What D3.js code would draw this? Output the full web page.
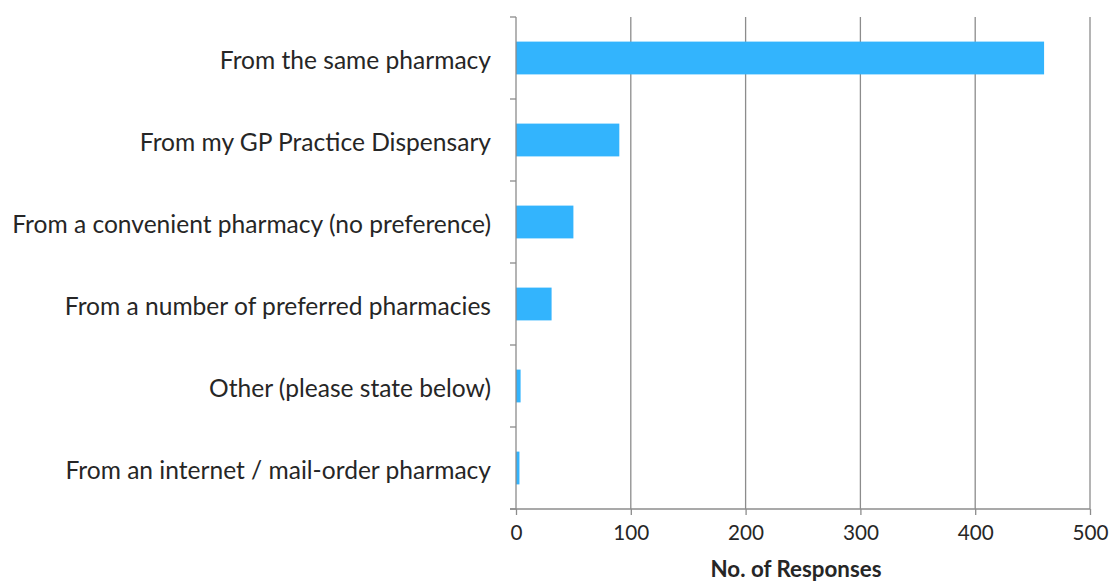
<!DOCTYPE html>
<html>
<head>
<meta charset="utf-8">
<script src="https://cdn.jsdelivr.net/npm/d3@7"></script>
<style>
  html, body { margin: 0; padding: 0; background: #fff; }
  svg { display: block; }
  text { font-family: Lato, "Open Sans", sans-serif; fill: #262626; }
</style>
</head>
<body>
<svg id="chart" width="1111" height="582"></svg>
<script>
const categories = [
  "From the same pharmacy",
  "From my GP Practice Dispensary",
  "From a convenient pharmacy (no preference)",
  "From a number of preferred pharmacies",
  "Other (please state below)",
  "From an internet / mail-order pharmacy"
];
const values = [460, 90, 50, 31, 4, 3];
const xTicks = [0, 100, 200, 300, 400, 500];
const xTitle = "No. of Responses";

const W = 1111, H = 582;
const margin = { top: 17, right: 21, bottom: 73, left: 516 };
const svg = d3.select("#chart");

const x = d3.scaleLinear().domain([0, 500]).range([margin.left, W - margin.right]);
const y = d3.scaleBand().domain(categories).range([margin.top, H - margin.bottom]).paddingInner(0.6).paddingOuter(0.3);
const yEdges = d3.scaleBand().domain(categories).range([margin.top, H - margin.bottom]);

const axisColor = "#8c8c8c";

function fitFont(sel, base, target) {
  let w = 0;
  sel.each(function() { w = Math.max(w, this.getComputedTextLength()); });
  const s = base * target / w;
  sel.style("font-size", s + "px");
  return s;
}

// gridlines
svg.append("g").selectAll("line").data(xTicks.filter(d => d > 0)).join("line")
  .attr("x1", d => x(d)).attr("x2", d => x(d))
  .attr("y1", margin.top).attr("y2", H - margin.bottom)
  .attr("stroke", axisColor).attr("stroke-width", 1.3);

// bars
svg.append("g").selectAll("rect").data(values).join("rect")
  .attr("x", x(0))
  .attr("y", (d, i) => y(categories[i]))
  .attr("width", d => x(d) - x(0))
  .attr("height", y.bandwidth())
  .attr("fill", "#33B4FD");

// y axis line + ticks at band boundaries
const yAxisG = svg.append("g");
yAxisG.append("line")
  .attr("x1", x(0)).attr("x2", x(0))
  .attr("y1", margin.top).attr("y2", H - margin.bottom)
  .attr("stroke", axisColor).attr("stroke-width", 1.3);
const boundaries = categories.map(c => yEdges(c)).concat([H - margin.bottom]);
yAxisG.selectAll("line.t").data(boundaries).join("line").attr("class", "t")
  .attr("x1", x(0) - 6).attr("x2", x(0))
  .attr("y1", d => d).attr("y2", d => d)
  .attr("stroke", axisColor).attr("stroke-width", 1.3);

// x axis
const xAxisG = svg.append("g").attr("transform", `translate(0,${H - margin.bottom})`)
  .call(d3.axisBottom(x).tickValues(xTicks).tickSize(6).tickPadding(10).tickSizeOuter(0));
xAxisG.select(".domain").attr("stroke", axisColor).attr("stroke-width", 1.3)
  .attr("d", `M${x(0) - 6},0H${x(500)}`);
xAxisG.selectAll(".tick line").attr("stroke", axisColor).attr("stroke-width", 1.3);
const tickTexts = xAxisG.selectAll(".tick text")
  .style("font-family", "Lato, 'Open Sans', sans-serif")
  .style("font-size", "20px").attr("fill", "#262626");
const tfs = fitFont(xAxisG.selectAll(".tick text").filter(d => d === 100), 20, 36);
tickTexts.style("font-size", tfs + "px");

// category labels
const labels = svg.append("g").selectAll("text").data(categories).join("text")
  .attr("x", 491)
  .attr("y", d => yEdges(d) + yEdges.bandwidth() / 2 + 1)
  .attr("text-anchor", "end")
  .attr("dominant-baseline", "central")
  .style("font-size", "20px")
  .text(d => d);
fitFont(labels, 20, 479);

// x title
const title = svg.append("text")
  .attr("x", 796).attr("y", 577)
  .attr("text-anchor", "middle")
  .style("font-size", "18px").style("font-weight", "bold")
  .text(xTitle);
fitFont(title, 18, 171);
</script>
</body>
</html>
